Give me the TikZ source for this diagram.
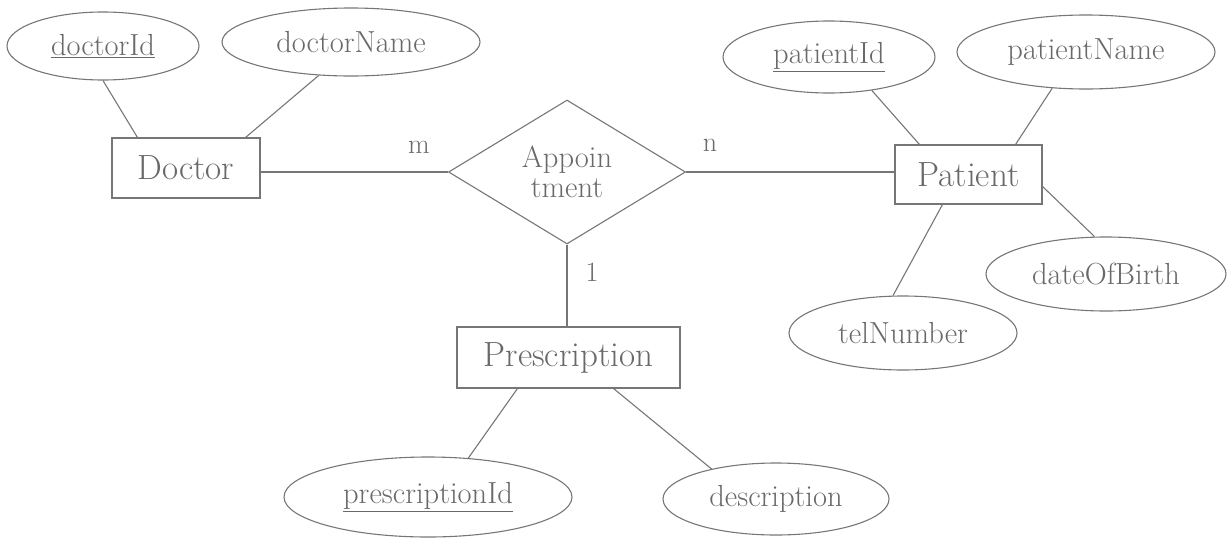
\documentclass[tikz,border=0pt]{standalone}
\usetikzlibrary{shapes.geometric}
\definecolor{ink}{RGB}{118,118,118}
\definecolor{textink}{RGB}{105,105,105}
\begin{document}
\begin{tikzpicture}[x=1pt,y=-1pt,
  every node/.style={text=textink},
  entity/.style={draw=ink, line width=1.1pt, rectangle, inner sep=0pt, font=\fontsize{35}{40}\selectfont},
  attr/.style={draw=ink, line width=1.1pt, ellipse, inner sep=0pt, font=\fontsize{30.5}{35}\selectfont},
  rel/.style={draw=ink, line width=1.1pt, diamond, aspect=1.6, inner sep=0pt, align=center, font=\fontsize{30.5}{30}\selectfont},
  card/.style={font=\fontsize{28}{32}\selectfont, inner sep=0pt},
  conn/.style={draw=ink, line width=1.1pt}]
\useasboundingbox (0,0) rectangle (1228,538);

% entities
\node[entity, minimum width=148pt, minimum height=60pt] (Doc) at (186,168) {Doctor};
\node[entity, minimum width=147pt, minimum height=59pt] (Pat) at (968.5,174.5) {Patient};
\node[entity, minimum width=223pt, minimum height=61pt] (Presc) at (568.5,357.5) {Prescription};

% relationship
\node[rel, minimum width=237pt, minimum height=144pt] (App) at (567,172) {Appoin\\tment};

% attributes
\node[attr, minimum width=192pt, minimum height=68pt] (dId) at (103,46) {\underline{doctorId}};
\node[attr, minimum width=258pt, minimum height=68pt] (dName) at (351,42) {doctorName};
\node[attr, minimum width=212pt, minimum height=72pt] (pId) at (829,57) {\underline{patientId}};
\node[attr, minimum width=258pt, minimum height=74pt] (pName) at (1086,52) {patientName};
\node[attr, minimum width=240pt, minimum height=74pt] (dob) at (1106,274) {dateOfBirth};
\node[attr, minimum width=228pt, minimum height=74pt] (tel) at (903,333) {telNumber};
\node[attr, minimum width=288pt, minimum height=80pt] (prId) at (428,497) {\underline{prescriptionId}};
\node[attr, minimum width=226pt, minimum height=72pt] (desc) at (776,499) {description};

% cardinalities
\node[card] (m) at (419,147) {m};
\node[card] (n) at (710,145) {n};
\node[card] (one) at (592,272) {1};

% relationship connectors
\draw[conn] (App.west) -- (App.west -| Doc.east);
\draw[conn] (App.east) -- (App.east -| Pat.west);
\draw[conn] (App.south) -- (App.south |- Presc.north);

% attribute connectors
\draw[conn] (dId.south) -- ([xshift=26pt]Doc.north west);
\draw[conn] (dName.-134) -- ([xshift=-15pt]Doc.north east);
\draw[conn] (pId.-38) -- ([xshift=25pt]Pat.north west);
\draw[conn] (pName.-133) -- ([xshift=-27pt]Pat.north east);
\draw[conn] (dob.107) -- ([yshift=-12pt]Pat.east);
\draw[conn] (tel.105) -- ([xshift=48pt]Pat.south west);
\draw[conn] (prId.44) -- ([xshift=61pt]Presc.south west);
\draw[conn] (desc.155) -- ([xshift=-67pt]Presc.south east);
\end{tikzpicture}
\end{document}
